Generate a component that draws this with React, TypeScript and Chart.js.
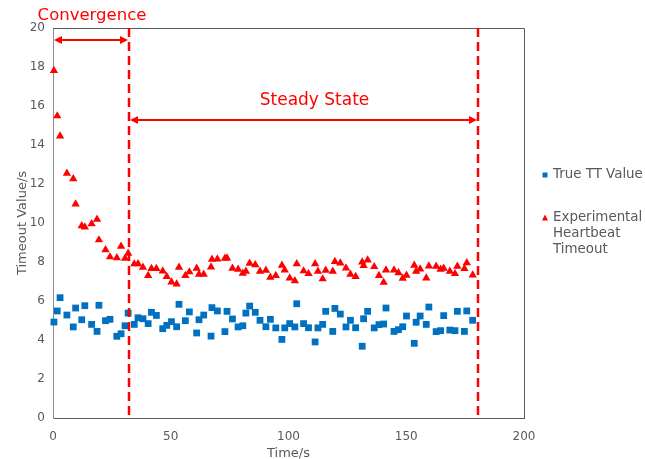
import React, { useEffect, useRef } from "react";
import { Chart, registerables } from "chart.js";

Chart.register(...registerables);

// Sample times (s)
const times = [
  0.4, 1.8, 3.0, 5.9, 8.6, 9.6, 12.2, 13.5, 16.4, 18.7,
  19.5, 22.3, 24.2, 27.1, 28.9, 30.6, 31.9, 34.5, 36.1, 38.2,
  40.4, 41.8, 43.9, 46.6, 48.3, 50.3, 52.5, 53.5, 56.2, 57.9,
  61.0, 62.0, 64.0, 67.1, 67.5, 69.8, 73.0, 73.9, 76.2, 78.6,
  80.6, 81.9, 83.5, 85.9, 87.9, 90.4, 92.3, 94.6, 97.2, 98.4,
  100.5, 102.7, 103.5, 106.4, 108.5, 111.3, 112.5, 114.5, 115.8, 118.8,
  119.7, 122.0, 124.4, 126.3, 128.5, 131.3, 131.9, 133.6, 136.4, 138.4,
  140.4, 141.4, 144.8, 146.7, 148.5, 150.1, 153.4, 154.2, 155.9, 158.5,
  159.6, 162.7, 164.6, 165.9, 168.5, 170.7, 171.7, 174.7, 175.7, 178.2,
];

// True TT value (s)
const trueTT = [
  4.92, 5.49, 6.17, 5.28, 4.67, 5.64, 5.04, 5.76, 4.8, 4.44,
  5.78, 4.99, 5.06, 4.19, 4.32, 4.73, 5.38, 4.8, 5.14, 5.09,
  4.84, 5.42, 5.26, 4.58, 4.75, 4.94, 4.68, 5.83, 4.99, 5.44,
  4.36, 5.04, 5.28, 4.2, 5.66, 5.49, 4.43, 5.47, 5.08, 4.67,
  4.73, 5.38, 5.74, 5.42, 5.01, 4.68, 5.06, 4.62, 4.03, 4.62,
  4.84, 4.67, 5.86, 4.84, 4.63, 3.9, 4.62, 4.8, 5.47, 4.44,
  5.62, 5.33, 4.67, 5.01, 4.63, 3.68, 5.09, 5.47, 4.62, 4.79,
  4.82, 5.64, 4.44, 4.53, 4.68, 5.23, 3.83, 4.91, 5.23, 4.8,
  5.69, 4.43, 4.48, 5.25, 4.51, 4.48, 5.47, 4.44, 5.49, 5.01,
];

// Experimental heartbeat timeout (s)
const heartbeat = [
  17.81, 15.49, 14.46, 12.55, 12.27, 10.97, 9.86, 9.79, 9.96, 10.19,
  9.13, 8.62, 8.26, 8.21, 8.8, 8.19, 8.45, 7.9, 7.91, 7.73,
  7.3, 7.66, 7.66, 7.53, 7.25, 6.97, 6.87, 7.73, 7.3, 7.49,
  7.68, 7.37, 7.37, 7.74, 8.14, 8.15, 8.19, 8.2, 7.68, 7.62,
  7.42, 7.52, 7.93, 7.86, 7.52, 7.57, 7.21, 7.3, 7.83, 7.59,
  7.18, 7.03, 7.91, 7.54, 7.4, 7.91, 7.52, 7.13, 7.57, 7.52,
  8.02, 7.95, 7.69, 7.37, 7.25, 8.0, 7.81, 8.1, 7.76, 7.3,
  6.96, 7.59, 7.59, 7.44, 7.16, 7.32, 7.83, 7.52, 7.64, 7.18,
  7.79, 7.78, 7.62, 7.68, 7.52, 7.4, 7.78, 7.66, 7.96, 7.33,
];

const xTickValues = [0, 50, 100, 150, 200];
const yTickValues = [0, 2, 4, 6, 8, 10, 12, 14, 16, 18, 20];

// Phase boundaries (s) and arrow heights (value units)
const phaseBounds = [0, 32.3, 180.5];
const phaseLabels = ["Convergence", "Steady State"];
const phaseArrowY = [19.4, 15.3];

const seriesLabels = ["True TT Value", "Experimental Heartbeat Timeout"];
const legendLines = [["True TT Value"], ["Experimental", "Heartbeat", "Timeout"]];

const BLUE = "#0070C0";
const RED = "#FF0000";
const TEXT = "#595959";
const FONT = "'DejaVu Sans', Verdana, sans-serif";

function arrowHead(ctx: CanvasRenderingContext2D, x: number, y: number, dir: number) {
  const len = 8;
  const half = 4;
  ctx.beginPath();
  ctx.moveTo(x, y);
  ctx.lineTo(x - dir * len, y - half);
  ctx.lineTo(x - dir * len, y + half);
  ctx.closePath();
  ctx.fill();
}

const phasePlugin = {
  id: "phases",
  beforeDatasetsDraw(chart: any) {
    const { ctx, chartArea } = chart;
    ctx.save();
    ctx.strokeStyle = "#595959";
    ctx.lineWidth = 1;
    ctx.beginPath();
    ctx.moveTo(chartArea.left, chartArea.top + 0.5);
    ctx.lineTo(chartArea.right + 0.5, chartArea.top + 0.5);
    ctx.lineTo(chartArea.right + 0.5, chartArea.bottom);
    ctx.stroke();
    ctx.restore();
  },
  afterDatasetsDraw(chart: any) {
    const { ctx, chartArea, scales } = chart;
    const xs = scales.x;
    const ys = scales.y;
    ctx.save();
    ctx.strokeStyle = RED;
    ctx.fillStyle = RED;
    // dashed phase boundaries
    ctx.lineWidth = 2.5;
    ctx.setLineDash([9, 5]);
    for (let i = 1; i < phaseBounds.length; i++) {
      const px = Math.round(xs.getPixelForValue(phaseBounds[i]));
      ctx.beginPath();
      ctx.moveTo(px, chartArea.top);
      ctx.lineTo(px, chartArea.bottom);
      ctx.stroke();
    }
    ctx.setLineDash([]);
    // double-headed arrows and labels
    const labelShift = [1, 11];
    const labelSize = [16.5, 17];
    for (let i = 0; i < phaseLabels.length; i++) {
      const x1 = xs.getPixelForValue(phaseBounds[i]);
      const x2 = Math.round(xs.getPixelForValue(phaseBounds[i + 1]));
      const y = Math.round(ys.getPixelForValue(phaseArrowY[i]));
      ctx.lineWidth = 2;
      ctx.beginPath();
      ctx.moveTo(x1 + 6, y);
      ctx.lineTo(x2 - 6, y);
      ctx.stroke();
      arrowHead(ctx, x1 + 1, y, -1);
      arrowHead(ctx, x2 - 1, y, 1);
      ctx.font = `${labelSize[i]}px ${FONT}`;
      ctx.textAlign = "center";
      ctx.textBaseline = "middle";
      const ty = i === 0 ? chartArea.top - 12 : y - 19;
      ctx.fillText(phaseLabels[i], (x1 + x2) / 2 + labelShift[i], ty);
    }
    ctx.restore();
  },
  afterDraw(chart: any) {
    const { ctx } = chart;
    ctx.save();
    ctx.font = `13.4px ${FONT}`;
    ctx.textAlign = "left";
    ctx.textBaseline = "middle";
    const lx = 545;
    const tx = 553;
    const rows = [175, 218];
    // blue square
    ctx.fillStyle = BLUE;
    ctx.fillRect(lx - 2.5, rows[0] - 2.5, 5, 5);
    // red triangle
    ctx.fillStyle = RED;
    ctx.beginPath();
    ctx.moveTo(lx, rows[1] - 3.5);
    ctx.lineTo(lx + 3, rows[1] + 2.5);
    ctx.lineTo(lx - 3, rows[1] + 2.5);
    ctx.closePath();
    ctx.fill();
    ctx.fillStyle = TEXT;
    legendLines.forEach((lines, i) => {
      lines.forEach((t, j) => ctx.fillText(t, tx, rows[i] + j * 16));
    });
    ctx.restore();
  },
};

export default function App() {
  const ref = useRef<HTMLCanvasElement | null>(null);
  useEffect(() => {
    if (!ref.current) return;
    const chart = new Chart(ref.current, {
      type: "scatter",
      data: {
        datasets: [
          {
            label: seriesLabels[0],
            data: times.map((t, i) => ({ x: t, y: trueTT[i] })),
            pointStyle: "rect",
            pointRadius: 4.8,
            backgroundColor: BLUE,
            borderColor: BLUE,
            borderWidth: 0,
            clip: false,
          },
          {
            label: seriesLabels[1],
            data: times.map((t, i) => ({ x: t, y: heartbeat[i] })),
            pointStyle: "triangle",
            pointRadius: 4.8,
            backgroundColor: RED,
            borderColor: RED,
            borderWidth: 0,
            clip: false,
          },
        ],
      },
      options: {
        responsive: false,
        animation: false,
        devicePixelRatio: 1,
        layout: { padding: { top: 28, right: 121, bottom: 0, left: 0 } },
        plugins: { legend: { display: false }, tooltip: { enabled: false } },
        scales: {
          x: {
            type: "linear",
            min: 0,
            max: 200,
            afterFit: (s: any) => { s.height = 41; },
            afterBuildTicks: (s: any) => { s.ticks = xTickValues.map((v) => ({ value: v })); },
            grid: { display: false, drawTicks: false },
            border: { color: "#595959", width: 1 },
            ticks: { color: TEXT, font: { family: FONT, size: 12 }, padding: 12, maxRotation: 0 },
            title: { display: true, text: "Time/s", color: TEXT, font: { family: FONT, size: 13, lineHeight: 1.2 }, padding: { top: 0, bottom: -2 } },
          },
          y: {
            type: "linear",
            min: 0,
            max: 20,
            afterFit: (s: any) => { s.width = 53; },
            afterBuildTicks: (s: any) => { s.ticks = yTickValues.map((v) => ({ value: v })); },
            grid: { display: false, drawTicks: false },
            border: { color: "#8c8c8c", width: 1 },
            ticks: { color: TEXT, font: { family: FONT, size: 12 }, padding: 8 },
            title: { display: true, text: "Timeout Value/s", color: TEXT, font: { family: FONT, size: 13, lineHeight: 1.2 }, padding: { top: 15, bottom: 0 } },
          },
        },
      },
      plugins: [phasePlugin],
    });
    return () => chart.destroy();
  }, []);
  return (
    <div style={{ position: "fixed", left: 0, top: 0, width: 645, height: 459, background: "#fff" }}>
      <canvas ref={ref} width={645} height={459} />
    </div>
  );
}
